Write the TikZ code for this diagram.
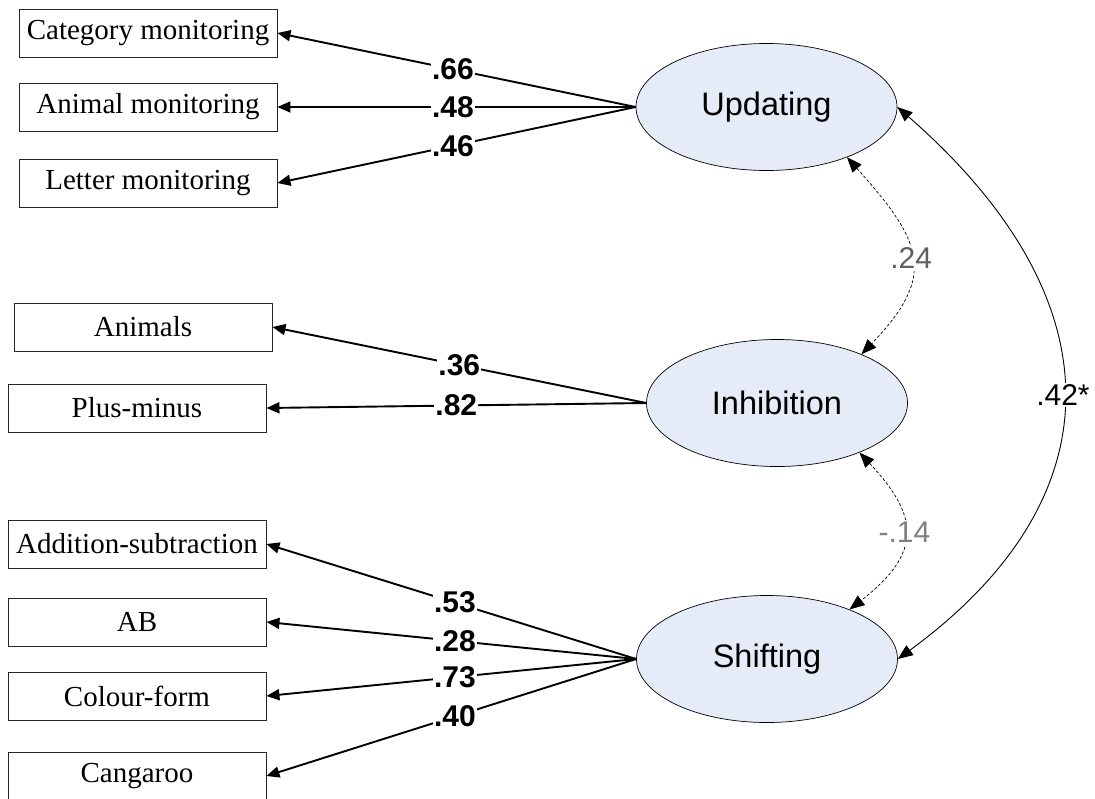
\documentclass[tikz,border=0pt]{standalone}
\usepackage{fontspec}
\usetikzlibrary{arrows.meta,shapes.geometric}
\newfontfamily\boxfont{Liberation Serif}
\newfontfamily\sansfont{Liberation Sans}
\definecolor{latfill}{HTML}{E6ECF7}
\definecolor{cova}{HTML}{5F5F5F}
\definecolor{covb}{HTML}{808080}
\begin{document}
\begin{tikzpicture}[x=1pt,y=-1pt,
  obs/.style={draw=black!85, line width=0.9pt, minimum width=258pt, minimum height=48pt, inner sep=0pt, font=\boxfont\fontsize{29}{31}\selectfont},
  lat/.style={ellipse, draw=black, line width=0.7pt, fill=latfill, minimum width=261pt, minimum height=127pt, inner sep=0pt, font=\sansfont\fontsize{32.5}{34}\selectfont},
  load/.style={line width=1.9pt, -{Triangle[length=13pt,width=11pt]}},
  lbl/.style={fill=white, inner sep=1pt, font=\sansfont\bfseries\fontsize{30}{32}\selectfont},
  cov/.style={line width=0.9pt, {Triangle[length=15pt,width=12pt]}-{Triangle[length=15pt,width=12pt]}},
  dcov/.style={line width=0.7pt, dash pattern=on 3pt off 2pt, {Triangle[length=15pt,width=12pt]}-{Triangle[length=15pt,width=12pt]}},
  clbl/.style={fill=white, inner sep=2pt, font=\sansfont\fontsize{30}{32}\selectfont}]
\useasboundingbox (0,0) rectangle (1095,798);
\clip (0,0) rectangle (1095,798);
% latent variables
\node[lat] (U) at (766.5,107) {Updating};
\node[lat] (I) at (777,403) {Inhibition};
\node[lat] (S) at (767,659) {Shifting};
% observed variables
\node[obs] (c1) at (148,33) {Category monitoring};
\node[obs] (c2) at (148,107) {Animal monitoring};
\node[obs] (c3) at (148,183) {Letter monitoring};
\node[obs] (i1) at (143,327) {Animals};
\node[obs] (i2) at (137,408) {Plus-minus};
\node[obs] (s1) at (137,544) {Addition-subtraction};
\node[obs] (s2) at (137,622) {AB};
\node[obs] (s3) at (137,696) {Colour-form};
\node[obs] (s4) at (137,776) {Cangaroo};
% loadings
\draw[load] (U.west) -- node[lbl,pos=0.51]{.66} (c1.east);
\draw[load] (U.west) -- node[lbl,pos=0.51]{.48} (c2.east);
\draw[load] (U.west) -- node[lbl,pos=0.51]{.46} (c3.east);
\draw[load] (I.west) -- node[lbl,pos=0.50]{.36} (i1.east);
\draw[load] (I.west) -- node[lbl,pos=0.50]{.82} (i2.east);
\draw[load] (S.west) -- node[lbl,pos=0.49]{.53} (s1.east);
\draw[load] (S.west) -- node[lbl,pos=0.49]{.28} (s2.east);
\draw[load] (S.west) -- node[lbl,pos=0.49]{.73} (s3.east);
\draw[load] (S.west) -- node[lbl,pos=0.49]{.40} (s4.east);
% covariances
\draw[dcov] (U.-32) .. controls +(76,85) and +(76,-79) .. node[clbl,text=cova,pos=0.5]{.24} (I.30);
\draw[dcov] (I.-31) .. controls +(58,62) and +(75,-58) .. node[clbl,text=covb,pos=0.5]{-.14} (S.31);
\draw[cov] (U.east) .. controls +(221,193) and +(220,-161) .. node[clbl,pos=0.5]{.42*} (S.east);
\end{tikzpicture}
\end{document}
